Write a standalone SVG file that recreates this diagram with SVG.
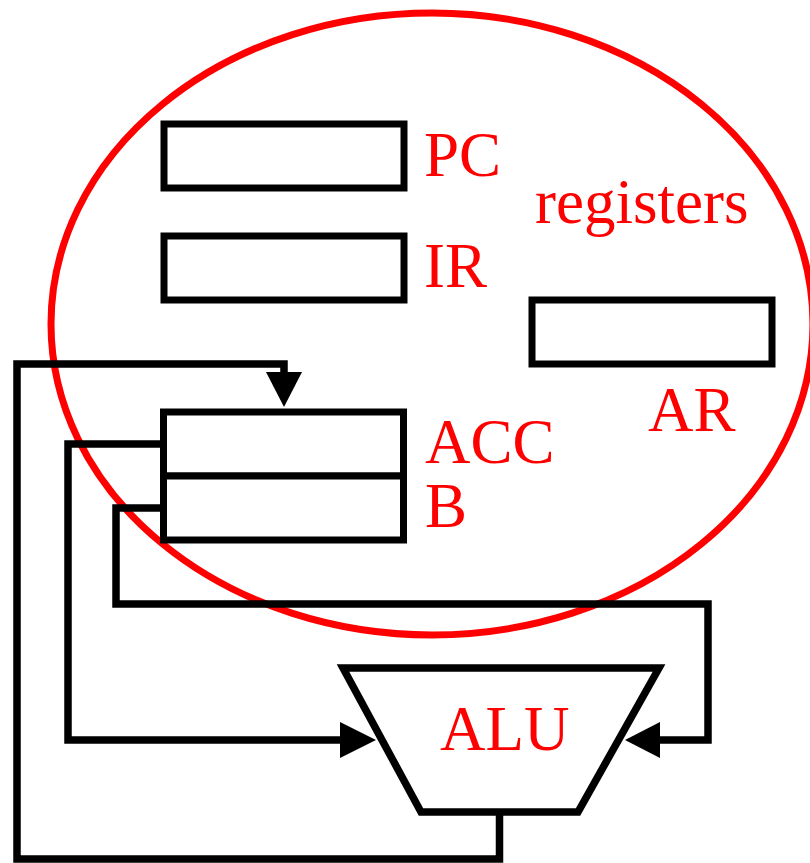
<svg xmlns="http://www.w3.org/2000/svg" width="810" height="863" viewBox="0 0 810 863">
<style>
.lbl{font-family:"Liberation Serif","Times New Roman",serif;font-size:63px;fill:#ff0000}
.reg{fill:#fff;stroke:#000;stroke-width:7}
.wire{fill:none;stroke:#000;stroke-width:7.5;stroke-linejoin:miter}
.head{fill:#000;stroke:none}
</style>
<rect width="810" height="863" fill="#fff"/>
<g id="registers">
<ellipse cx="432" cy="324" rx="381" ry="311" fill="none" stroke="#ff0000" stroke-width="7"/>
<text class="lbl" x="535" y="223">registers</text>
</g>
<g id="connectors">
<path class="wire" d="M499.5,812 V859 H17 V364 H284 V376"/>
<polygon class="head" points="266,372 302,372 284,407"/>
<path class="wire" d="M163,444 H68 V740 H345"/>
<polygon class="head" points="340,722 376,740 340,758"/>
<path class="wire" d="M163,508 H116 V604 H708 V740 H655"/>
<polygon class="head" points="660,722 625,740 660,758"/>
</g>
<g id="PC">
<rect class="reg" x="164" y="124" width="240" height="64"/>
<text class="lbl" x="424" y="176">PC</text>
</g>
<g id="IR">
<rect class="reg" x="164" y="236" width="240" height="64"/>
<text class="lbl" x="424" y="287">IR</text>
</g>
<g id="AR">
<rect class="reg" x="532" y="300" width="240" height="64"/>
<text class="lbl" x="648" y="431">AR</text>
</g>
<g id="ACC">
<rect class="reg" x="163.5" y="412" width="240" height="64"/>
<text class="lbl" x="425" y="463">ACC</text>
</g>
<g id="B">
<rect class="reg" x="163.5" y="476" width="240" height="64"/>
<text class="lbl" x="425" y="527">B</text>
</g>
<g id="ALU">
<polygon points="343,668 659,668 578,812 421,812" fill="#fff" stroke="#000" stroke-width="7.5"/>
<text class="lbl" x="440" y="750">ALU</text>
</g>
</svg>
